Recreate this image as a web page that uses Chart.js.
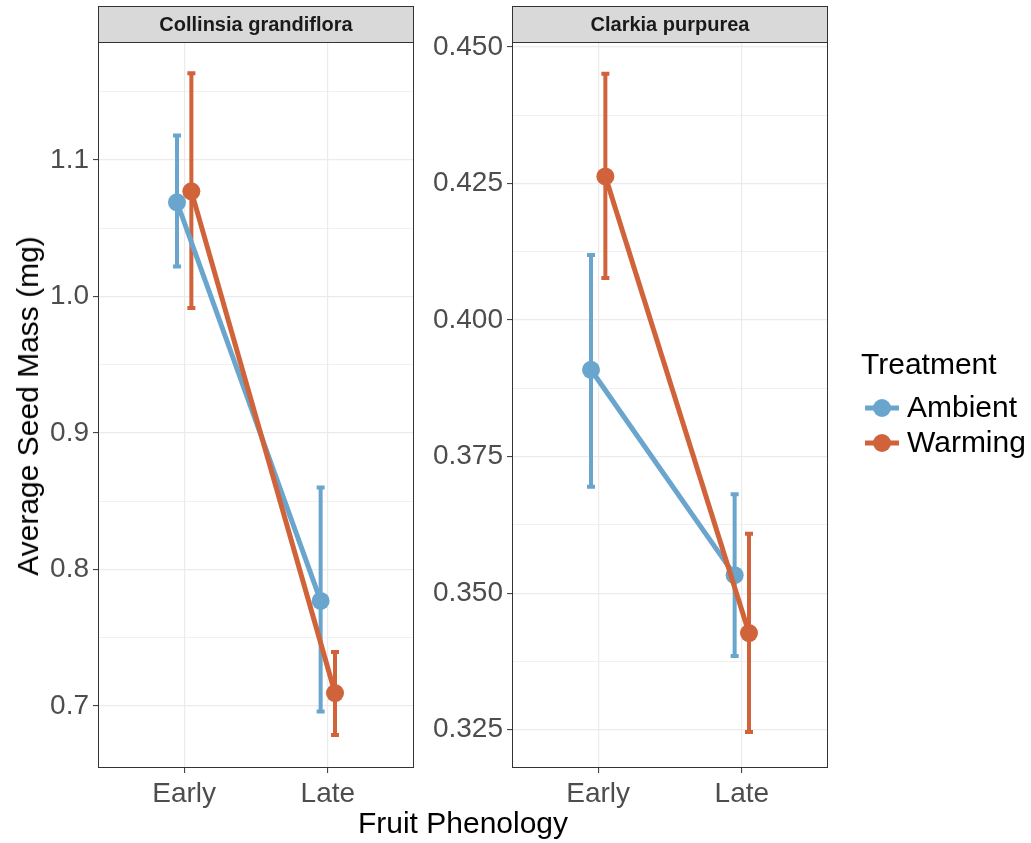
<!DOCTYPE html>
<html>
<head>
<meta charset="utf-8">
<script src="https://cdn.jsdelivr.net/npm/chart.js@4.4.1/dist/chart.umd.min.js"></script>
<style>
  body { margin: 0; background: #fff; font-family: "Liberation Sans", Arial, sans-serif; }
  #wrap { position: relative; width: 1031px; height: 843px; overflow: hidden; }
  canvas { position: absolute; top: 0; }
  #c-left { left: 0; }
  #c-right { left: 420px; }
  .y-title { position: absolute; left: 28px; top: 406px; transform: translate(-50%, -50%) rotate(-90deg);
    font-size: 30px; white-space: nowrap; color: #000; }
  .x-title { position: absolute; left: 463px; top: 823px; transform: translate(-50%, -50%);
    font-size: 30px; white-space: nowrap; color: #000; }
</style>
</head>
<body>
<div id="wrap">
  <canvas id="c-left" width="420" height="843"></canvas>
  <canvas id="c-right" width="611" height="843"></canvas>
  <div class="y-title">Average Seed Mass (mg)</div>
  <div class="x-title">Fruit Phenology</div>
</div>
<script>
// data
const categories = ['Early', 'Late'];
const treatments = ['Ambient', 'Warming'];
const colors = ['#6aa5cd', '#d1633a'];

const collinsiaAmbientMean = [1.069, 0.777];
const collinsiaAmbientLow = [1.022, 0.696];
const collinsiaAmbientHigh = [1.118, 0.860];
const collinsiaWarmingMean = [1.077, 0.7095];
const collinsiaWarmingLow = [0.9916, 0.6788];
const collinsiaWarmingHigh = [1.1635, 0.7396];

const clarkiaAmbientMean = [0.3909, 0.3533];
const clarkiaAmbientLow = [0.3695, 0.3385];
const clarkiaAmbientHigh = [0.4119, 0.3681];
const clarkiaWarmingMean = [0.4263, 0.3427];
const clarkiaWarmingLow = [0.4077, 0.3246];
const clarkiaWarmingHigh = [0.4451, 0.3609];

const collinsiaMajorTicks = [0.7, 0.8, 0.9, 1.0, 1.1];
const collinsiaMinorTicks = [0.75, 0.85, 0.95, 1.05, 1.15];
const clarkiaMajorTicks = [0.325, 0.350, 0.375, 0.400, 0.425, 0.450];
const clarkiaMinorTicks = [0.3375, 0.3625, 0.3875, 0.4125, 0.4375];

const dodge = 0.05;
const fontFam = '"Liberation Sans", Arial, sans-serif';

let points = (mean, low, high, side) => mean.map((m, i) => ({
  x: i + 1 + side * dodge, y: m, lo: low[i], hi: high[i]
}));

// error bars drawn under lines and points
const errorBars = {
  id: 'errorBars',
  beforeDatasetsDraw(chart) {
    let { ctx, scales: { x, y } } = chart;
    ctx.save();
    chart.data.datasets.forEach(ds => {
      ctx.strokeStyle = ds.borderColor;
      ctx.lineWidth = 4;
      ctx.lineCap = 'butt';
      ds.data.forEach(p => {
        let px = x.getPixelForValue(p.x);
        let top = y.getPixelForValue(p.hi);
        let bot = y.getPixelForValue(p.lo);
        ctx.beginPath();
        ctx.moveTo(px, top);
        ctx.lineTo(px, bot);
        ctx.moveTo(px - 4, top);
        ctx.lineTo(px + 4, top);
        ctx.moveTo(px - 4, bot);
        ctx.lineTo(px + 4, bot);
        ctx.stroke();
      });
    });
    ctx.restore();
  }
};

// panel border and facet strip
const panelFrame = {
  id: 'panelFrame',
  afterDraw(chart, args, opts) {
    let { ctx, chartArea: a } = chart;
    ctx.save();
    ctx.fillStyle = '#d9d9d9';
    ctx.fillRect(a.left, 6, a.right - a.left, a.top - 6);
    ctx.strokeStyle = '#333333';
    ctx.lineWidth = 1;
    ctx.strokeRect(a.left + 0.5, 6.5, a.right - a.left - 1, a.top - 6);
    ctx.strokeRect(a.left + 0.5, a.top + 0.5, a.right - a.left - 1, a.bottom - a.top - 1);
    ctx.fillStyle = '#1a1a1a';
    ctx.font = 'bold 20px ' + fontFam;
    ctx.textAlign = 'center';
    ctx.textBaseline = 'middle';
    ctx.fillText(opts.title, (a.left + a.right) / 2, (6 + a.top) / 2 + 1);
    ctx.restore();
  }
};

// legend on the right
const sideLegend = {
  id: 'sideLegend',
  afterDraw(chart, args, opts) {
    if (!opts.show) return;
    let { ctx } = chart;
    ctx.save();
    ctx.fillStyle = '#000';
    ctx.font = '30px ' + fontFam;
    ctx.textBaseline = 'middle';
    ctx.fillText('Treatment', 441, 366);
    treatments.forEach((t, i) => {
      let cy = 408 + i * 35;
      ctx.strokeStyle = colors[i];
      ctx.lineWidth = 5;
      ctx.beginPath();
      ctx.moveTo(445, cy);
      ctx.lineTo(479, cy);
      ctx.stroke();
      ctx.fillStyle = colors[i];
      ctx.beginPath();
      ctx.arc(462, cy, 9, 0, Math.PI * 2);
      ctx.fill();
      ctx.fillStyle = '#000';
      ctx.fillText(t, 487, cy + 1);
    });
    ctx.restore();
  }
};

let makePanel = (canvasId, cfg) => {
  let majors = cfg.majors;
  let allTicks = majors.concat(cfg.minors).sort((a, b) => a - b);
  let isMajor = v => majors.some(m => Math.abs(m - v) < 1e-6);
  return new Chart(document.getElementById(canvasId), {
    type: 'line',
    data: {
      datasets: [
        {
          label: treatments[0],
          data: points(cfg.ambient[0], cfg.ambient[1], cfg.ambient[2], -1),
          borderColor: colors[0], backgroundColor: colors[0],
          borderWidth: 5, pointRadius: 9, pointBorderWidth: 0, order: 1
        },
        {
          label: treatments[1],
          data: points(cfg.warming[0], cfg.warming[1], cfg.warming[2], 1),
          borderColor: colors[1], backgroundColor: colors[1],
          borderWidth: 5, pointRadius: 9, pointBorderWidth: 0, order: 0
        }
      ]
    },
    options: {
      responsive: false,
      animation: false,
      layout: { autoPadding: false, padding: { top: 42, right: cfg.padRight, left: 0, bottom: 0 } },
      plugins: {
        legend: { display: false },
        tooltip: { enabled: false },
        panelFrame: { title: cfg.title },
        sideLegend: { show: cfg.legend }
      },
      scales: {
        x: {
          type: 'linear', min: 0.4, max: 2.6,
          afterBuildTicks: s => { s.ticks = categories.map((c, i) => ({ value: i + 1 })); },
          afterFit: s => { s.height = 75; s.paddingLeft = 0; s.paddingRight = 0; },
          ticks: {
            callback: v => categories[Math.round(v) - 1],
            font: { size: 28, family: fontFam }, color: '#4d4d4d', padding: 4, maxRotation: 0
          },
          grid: { color: '#ebebeb', lineWidth: 1.2, tickLength: 5, tickColor: '#333333', tickWidth: 1 },
          border: { display: false }
        },
        y: {
          min: cfg.min, max: cfg.max,
          afterBuildTicks: s => { s.ticks = allTicks.map(v => ({ value: v })); },
          afterFit: s => { s.width = cfg.axisWidth; s.paddingTop = 0; s.paddingBottom = 0; },
          ticks: {
            callback: v => isMajor(v) ? v.toFixed(cfg.digits) : '',
            font: { size: 28, family: fontFam }, color: '#4d4d4d', padding: 4, autoSkip: false
          },
          grid: {
            color: '#ebebeb',
            lineWidth: c => (c.tick && isMajor(c.tick.value)) ? 1.2 : 0.7,
            tickLength: 5,
            tickColor: c => (c.tick && isMajor(c.tick.value)) ? '#333333' : 'rgba(0,0,0,0)',
            tickWidth: 1
          },
          border: { display: false }
        }
      }
    },
    plugins: [errorBars, panelFrame, sideLegend]
  });
};

makePanel('c-left', {
  title: 'Collinsia grandiflora',
  ambient: [collinsiaAmbientMean, collinsiaAmbientLow, collinsiaAmbientHigh],
  warming: [collinsiaWarmingMean, collinsiaWarmingLow, collinsiaWarmingHigh],
  majors: collinsiaMajorTicks, minors: collinsiaMinorTicks,
  min: 0.6546, max: 1.1864, digits: 1,
  axisWidth: 98, padRight: 6, legend: false
});

makePanel('c-right', {
  title: 'Clarkia purpurea',
  ambient: [clarkiaAmbientMean, clarkiaAmbientLow, clarkiaAmbientHigh],
  warming: [clarkiaWarmingMean, clarkiaWarmingLow, clarkiaWarmingHigh],
  majors: clarkiaMajorTicks, minors: clarkiaMinorTicks,
  min: 0.3180, max: 0.4509, digits: 3,
  axisWidth: 92, padRight: 203, legend: true
});
</script>
</body>
</html>
